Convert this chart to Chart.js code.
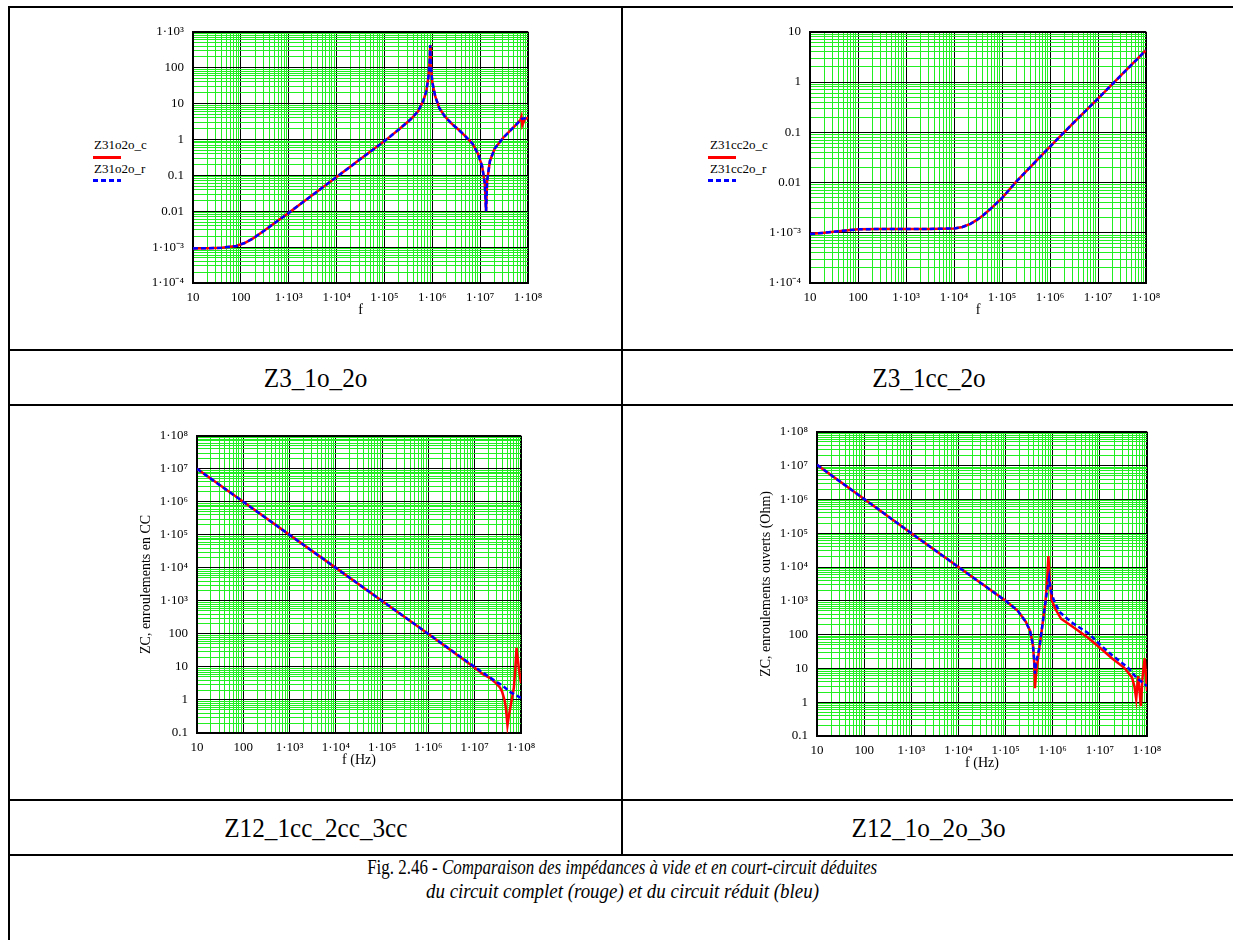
<!DOCTYPE html>
<html>
<head>
<meta charset="utf-8">
<script src="https://cdn.jsdelivr.net/npm/chart.js"></script>
<style>
  html, body { margin: 0; padding: 0; background: #fff; }
  body { width: 1233px; height: 940px; position: relative; overflow: hidden; font-family: "Liberation Serif", serif; color: #000; }
  .hl { position: absolute; height: 2px; background: #000; }
  .vl { position: absolute; width: 2px; background: #000; }
  .cell { position: absolute; display: flex; align-items: center; justify-content: center; }
  .cap { font-size: 28px; display: inline-block; transform: scaleX(0.9); white-space: nowrap; }
  .figline { position: absolute; left: 10px; width: 1225px; text-align: center; font-size: 22px; line-height: 24px; white-space: nowrap; }
  .figline span { display: inline-block; }
  canvas { position: absolute; }
  .legtxt { position: absolute; font-size: 13px; line-height: 15px; white-space: nowrap; }
  .legred { position: absolute; height: 3px; background: #ff0000; }
  .legblue { position: absolute; height: 3px; background: repeating-linear-gradient(90deg, #0000ff 0 5px, transparent 5px 8px); }
</style>
</head>
<body>

<!-- table rules -->
<div class="hl" style="left:8px; width:1225px; top:6px;"></div>
<div class="vl" style="left:8px; top:6px; height:934px;"></div>
<div class="vl" style="left:621px; top:6px; height:850px;"></div>
<div class="hl" style="left:8px; width:1225px; top:349px;"></div>
<div class="hl" style="left:8px; width:1225px; top:404px;"></div>
<div class="hl" style="left:8px; width:1225px; top:799px;"></div>
<div class="hl" style="left:8px; width:1225px; top:854px;"></div>

<!-- captions -->
<div class="cell" style="left:10px; width:611px; top:351px; height:53px;"><span class="cap">Z3_1o_2o</span></div>
<div class="cell" style="left:623px; width:612px; top:351px; height:53px;"><span class="cap">Z3_1cc_2o</span></div>
<div class="cell" style="left:10px; width:611px; top:801px; height:53px;"><span class="cap">Z12_1cc_2cc_3cc</span></div>
<div class="cell" style="left:623px; width:612px; top:801px; height:53px;"><span class="cap">Z12_1o_2o_3o</span></div>
<div class="figline" style="top:855px;"><span style="transform:scaleX(0.77);">Fig. 2.46 - <i>Comparaison des impédances à vide et en court-circuit déduites</i></span></div>
<div class="figline" style="top:879px;"><span style="transform:scaleX(0.86);"><i>du circuit complet (rouge) et du circuit réduit (bleu)</i></span></div>

<!-- legends of the two upper charts -->
<div class="legtxt" style="left:94px; top:137px;">Z31o2o_c</div>
<div class="legred" style="left:93px; width:28px; top:156px;"></div>
<div class="legtxt" style="left:94px; top:161px;">Z31o2o_r</div>
<div class="legblue" style="left:93px; width:28px; top:179px;"></div>

<div class="legtxt" style="left:710px; top:137px;">Z31cc2o_c</div>
<div class="legred" style="left:708px; width:28px; top:156px;"></div>
<div class="legtxt" style="left:710px; top:161px;">Z31cc2o_r</div>
<div class="legblue" style="left:708px; width:28px; top:179px;"></div>

<canvas id="c1"></canvas>
<canvas id="c2"></canvas>
<canvas id="c3"></canvas>
<canvas id="c4"></canvas>

<script>
// ---- tick labels (one per decade) ----
const decadeExps = [-4, -3, -2, -1, 0, 1, 2, 3, 4, 5, 6, 7, 8];
const decadeLabels = ['1·10⁻⁴', '1·10⁻³', '0.01', '0.1', '1', '10', '100',
                      '1·10³', '1·10⁴', '1·10⁵', '1·10⁶', '1·10⁷', '1·10⁸'];

// ---- Z3_1o_2o ----
const z31o2oF = [10, 20, 40, 80, 120, 180, 300, 500, 1e3, 2e3, 5e3, 1e4, 3e4, 1e5, 2e5, 3.5e5, 5e5, 6.5e5,
                 7.5e5, 8.3e5, 8.8e5, 9.05e5, 9.3e5, 1e6, 1.15e6, 1.4e6, 1.8e6, 2.5e6, 3.5e6, 5e6, 7e6, 9e6,
                 1.1e7, 1.25e7, 1.33e7, 1.4e7, 1.6e7, 2e7, 3e7, 4.5e7, 6e7, 7e7, 7.3e7, 7.6e7, 8.5e7, 1e8];
const z31o2oC = [9.2e-4, 9.3e-4, 9.6e-4, 1.08e-3, 1.3e-3, 1.75e-3, 2.8e-3, 4.6e-3, 9e-3, 0.018, 0.045, 0.09, 0.27,
                 0.9, 1.9, 3.6, 6, 12, 22, 55, 150, 420, 120, 40, 16, 7.5, 4.5, 2.8, 1.9, 1.2, 0.75, 0.4,
                 0.18, 0.06, 0.01, 0.07, 0.25, 0.55, 1.1, 1.9, 2.8, 3.6, 4.3, 2.5, 3.6, 4.1];
const z31o2oR = [9.2e-4, 9.3e-4, 9.6e-4, 1.08e-3, 1.3e-3, 1.75e-3, 2.8e-3, 4.6e-3, 9e-3, 0.018, 0.045, 0.09, 0.27,
                 0.9, 1.9, 3.6, 6, 12, 22, 55, 150, 420, 120, 40, 16, 7.5, 4.5, 2.8, 1.9, 1.2, 0.75, 0.4,
                 0.18, 0.06, 0.01, 0.07, 0.25, 0.55, 1.1, 1.9, 2.8, 3.5, 3.7, 3.8, 3.9, 4.1];

// ---- Z3_1cc_2o ----
const z31cc2oF = [10, 20, 50, 100, 300, 1e3, 3e3, 1e4, 1.5e4, 2.2e4, 3e4, 4e4, 6e4, 1e5, 2e5, 5e5, 1e6, 3e6, 1e7, 3e7, 1e8];
const z31cc2oC = [9.4e-4, 1.0e-3, 1.1e-3, 1.17e-3, 1.19e-3, 1.19e-3, 1.19e-3, 1.22e-3, 1.3e-3, 1.5e-3, 1.8e-3,
                  2.2e-3, 3.1e-3, 4.9e-3, 0.0105, 0.026, 0.052, 0.15, 0.47, 1.35, 4.3];
const z31cc2oR = [9.4e-4, 1.0e-3, 1.1e-3, 1.17e-3, 1.19e-3, 1.19e-3, 1.19e-3, 1.22e-3, 1.3e-3, 1.5e-3, 1.8e-3,
                  2.2e-3, 3.1e-3, 4.9e-3, 0.0105, 0.026, 0.052, 0.15, 0.47, 1.35, 4.3];

// ---- Z12_1cc_2cc_3cc ----
const z12ccF_c = [10, 1e2, 1e3, 1e4, 1e5, 1e6, 1e7, 1.5e7, 2.15e7, 2.9e7, 3.5e7, 3.9e7, 4.4e7, 4.7e7, 5.1e7,
                  5.5e7, 5.9e7, 6.5e7, 7e7, 7.5e7, 8e7, 9e7, 1e8];
const z12ccC = [1e7, 1e6, 1e5, 1e4, 1e3, 100, 9.5, 6.0, 4.6, 3.2, 2.4, 1.8, 1.0, 0.6, 0.17,
                0.35, 0.6, 1.3, 2.3, 8, 38, 9, 3.2];
const z12ccF_r = [10, 1e2, 1e3, 1e4, 1e5, 1e6, 1e7, 2e7, 3e7, 4e7, 6e7, 1e8];
const z12ccR = [1e7, 1e6, 1e5, 1e4, 1e3, 100, 10, 5.1, 3.5, 2.7, 1.7, 1.15];

// ---- Z12_1o_2o_3o ----
const z12oF_c = [10, 1e2, 1e3, 1e4, 1e5, 1.8e5, 2.7e5, 3.3e5, 3.8e5, 4.05e5, 4.2e5, 4.4e5, 5.2e5, 6.2e5, 7e5,
                 7.6e5, 8.1e5, 8.6e5, 9.4e5, 1.14e6, 1.5e6, 2.7e6, 5.8e6, 1.02e7, 1.8e7, 3.3e7, 4.8e7, 5.4e7,
                 5.9e7, 6.5e7, 7e7, 7.4e7, 8e7, 8.9e7, 9.5e7, 1e8];
const z12oC = [1.05e7, 1.03e6, 1e5, 1e4, 1e3, 515, 236, 130, 50, 15, 2.6, 6, 40, 250, 910,
               4000, 2.1e4, 5000, 1100, 570, 295, 168, 78, 40, 20, 10.4, 5.4, 3,
               1.25, 5.9, 2, 0.77, 5, 20, 6, 2.2];
const z12oF_r = [10, 1e2, 1e3, 1e4, 1e5, 1.8e5, 2.7e5, 3.3e5, 3.8e5, 4.05e5, 4.2e5, 4.4e5, 5.2e5, 6.2e5, 7e5,
                 7.8e5, 8.4e5, 9e5, 1.04e6, 1.4e6, 1.85e6, 2.7e6, 5.8e6, 1.02e7, 1.8e7, 4e7, 5.9e7, 1e8];
const z12oR = [1.05e7, 1.03e6, 1e5, 1e4, 1e3, 515, 236, 130, 50, 18, 7, 14, 40, 250, 900,
               2500, 4800, 2200, 1100, 465, 330, 215, 108, 50, 25, 10.4, 5.4, 3.0];

const FONT = 'Liberation Serif';
const GREEN = '#22ee22';

function isDecade(v) {
    const l = Math.log10(v);
    return Math.abs(l - Math.round(l)) < 1e-6;
}

function decadeLabel(v) {
    const i = decadeExps.indexOf(Math.round(Math.log10(v)));
    return i >= 0 ? decadeLabels[i] : '';
}

// 1..9 x 10^n positions, for the grid
function gridValues(min, max) {
    const out = [];
    const e0 = Math.round(Math.log10(min)), e1 = Math.round(Math.log10(max));
    for (let e = e0; e < e1; e++) {
        for (let k = 1; k < 10; k++) out.push(k * Math.pow(10, e));
    }
    out.push(max);
    return out;
}

function pts(fs, zs) {
    return fs.map((f, i) => ({ x: f, y: zs[i] }));
}

function logAxis(min, max, title, fit) {
    return {
        type: 'logarithmic',
        min: min,
        max: max,
        afterBuildTicks: s => { s.ticks = gridValues(min, max).map(v => ({ value: v })); },
        afterFit: fit,
        ticks: {
            autoSkip: false, maxRotation: 0, minRotation: 0, padding: 7, color: '#000',
            font: { family: FONT, size: 13 },
            callback: v => isDecade(v) ? decadeLabel(v) : ''
        },
        grid: {
            drawTicks: false,
            color: ctx => isDecade(ctx.tick.value) ? '#000' : GREEN,
            lineWidth: ctx => (Math.abs(ctx.tick.value / max - 1) < 1e-9) ? 2 : 1
        },
        border: { display: true, color: '#000', width: 2 },
        title: {
            display: !!title, text: title, color: '#000',
            font: { family: FONT, size: 14 }, padding: { top: 0, bottom: 0 }
        }
    };
}

// plot = [left, top, right, bottom] of the plotting area on the page
function makeChart(id, plot, yMin, yMax, xTitle, yTitle, red, blue, yW, xH) {
    const padT = 12, padR = 26;
    const cv = document.getElementById(id);
    cv.width = yW + (plot[2] - plot[0]) + padR;
    cv.height = padT + (plot[3] - plot[1]) + xH;
    cv.style.left = (plot[0] - yW) + 'px';
    cv.style.top = (plot[1] - padT) + 'px';

    const xAxis = logAxis(10, 1e8, xTitle, s => { s.height = xH; });
    const yAxis = logAxis(yMin, yMax, yTitle, s => { s.width = yW; });
    yAxis.ticks.padding = 9;
    yAxis.title.font.size = 14;
    yAxis.title.padding = { top: 1, bottom: 0 };

    new Chart(cv.getContext('2d'), {
        type: 'line',
        data: {
            datasets: [
                { data: red, borderColor: '#ff0000', borderWidth: 2.5, pointRadius: 0, tension: 0, order: 1 },
                { data: blue, borderColor: '#0000ff', borderWidth: 2.5, borderDash: [5, 3], pointRadius: 0, tension: 0, order: 0 }
            ]
        },
        options: {
            responsive: false,
            animation: false,
            devicePixelRatio: 1,
            layout: { autoPadding: false, padding: { top: padT, right: padR, left: 0, bottom: 0 } },
            plugins: { legend: { display: false }, tooltip: { enabled: false } },
            scales: { x: xAxis, y: yAxis }
        }
    });
}

makeChart('c1', [193, 27, 528, 283], 1e-4, 1e3, 'f', '',
          pts(z31o2oF, z31o2oC), pts(z31o2oF, z31o2oR), 62, 36);
makeChart('c2', [810, 27, 1146, 283], 1e-4, 10, 'f', '',
          pts(z31cc2oF, z31cc2oC), pts(z31cc2oF, z31cc2oR), 62, 36);
makeChart('c3', [197, 431, 521, 733], 0.1, 1e8, 'f (Hz)', 'ZC, enroulements en CC',
          pts(z12ccF_c, z12ccC), pts(z12ccF_r, z12ccR), 60, 36);
makeChart('c4', [817, 427, 1147, 736], 0.1, 1e8, 'f (Hz)', 'ZC, enroulements ouverts (Ohm)',
          pts(z12oF_c, z12oC), pts(z12oF_r, z12oR), 60, 36);
</script>
</body>
</html>
